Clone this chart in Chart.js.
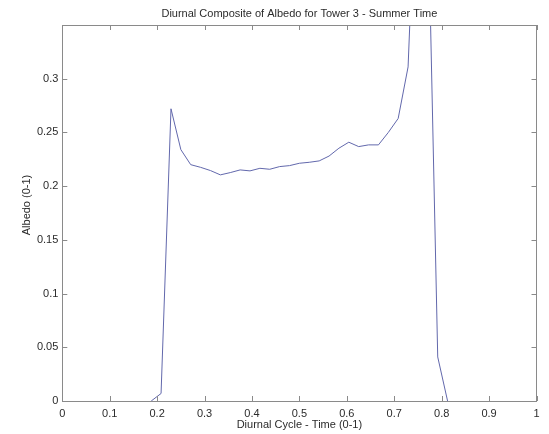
<!DOCTYPE html>
<html>
<head>
<meta charset="utf-8">
<script src="https://cdn.jsdelivr.net/npm/chart.js@4.4.0/dist/chart.umd.min.js"></script>
<style>
  html, body { margin: 0; padding: 0; background: #ffffff; }
  #wrap { width: 549px; height: 434px; position: relative; }
  canvas { display: block; }
</style>
</head>
<body>
<div id="wrap"><canvas id="c" width="549" height="434"></canvas></div>
<script>
// ---- data ----
const chartTitle = 'Diurnal Composite of Albedo for Tower 3 - Summer Time';
const xAxisTitle = 'Diurnal Cycle - Time (0-1)';
const yAxisTitle = 'Albedo (0-1)';

const cycleTime = [
  0.1875, 0.2083, 0.2292, 0.25, 0.2708, 0.2917, 0.3125, 0.3333,
  0.3542, 0.375, 0.3958, 0.4167, 0.4375, 0.4583, 0.4792, 0.5,
  0.5208, 0.5417, 0.5625, 0.5833, 0.6042, 0.625, 0.6458, 0.6667,
  0.6875, 0.7083, 0.7292, 0.75, 0.7708, 0.7917, 0.8125
];
const albedo = [
  0.000, 0.007, 0.272, 0.234, 0.220, 0.2175, 0.2145, 0.2105,
  0.2126, 0.2151, 0.2142, 0.2166, 0.2157, 0.2182, 0.2191, 0.2213,
  0.2222, 0.2235, 0.228, 0.2353, 0.2409, 0.2368, 0.2384, 0.2384,
  0.250, 0.263, 0.311, 0.54, 0.47, 0.041, 0.000
];
const xTicks = [0, 0.1, 0.2, 0.3, 0.4, 0.5, 0.6, 0.7, 0.8, 0.9, 1];
const yTicks = [0, 0.05, 0.1, 0.15, 0.2, 0.25, 0.3];

const FONT = '"Liberation Sans", Arial, Helvetica, sans-serif';
const TEXT = '#2b2b2b';
const FRAME = '#8a8a8a';

const points = cycleTime.map((x, i) => ({ x: x, y: albedo[i] }));

const matlabFrame = {
  id: 'matlabFrame',
  afterDraw(chart) {
    const { ctx, chartArea: a, scales } = chart;
    ctx.save();
    ctx.strokeStyle = FRAME;
    ctx.lineWidth = 1;
    ctx.strokeRect(Math.round(a.left) + 0.5, Math.round(a.top) + 0.5,
                   Math.round(a.right - a.left), Math.round(a.bottom - a.top));
    const L = 5;
    ctx.beginPath();
    xTicks.forEach(v => {
      const px = Math.round(scales.x.getPixelForValue(v)) + 0.5;
      ctx.moveTo(px, a.bottom); ctx.lineTo(px, a.bottom - L);
      ctx.moveTo(px, a.top); ctx.lineTo(px, a.top + L);
    });
    yTicks.forEach(v => {
      const py = Math.round(scales.y.getPixelForValue(v)) + 0.5;
      ctx.moveTo(a.left, py); ctx.lineTo(a.left + L, py);
      ctx.moveTo(a.right, py); ctx.lineTo(a.right - L, py);
    });
    ctx.stroke();
    // titles
    ctx.fillStyle = TEXT;
    ctx.textAlign = 'center';
    ctx.textBaseline = 'middle';
    ctx.font = '11px ' + FONT;
    const cx = (a.left + a.right) / 2;
    ctx.fillText(chartTitle, cx, 14);
    ctx.fillText(xAxisTitle, cx, 425);
    ctx.translate(27, 205);
    ctx.rotate(-Math.PI / 2);
    ctx.fillText(yAxisTitle, 0, 0);
    ctx.restore();
  }
};

new Chart(document.getElementById('c'), {
  type: 'line',
  data: {
    datasets: [{
      data: points,
      borderColor: 'rgb(98,104,172)',
      borderWidth: 1,
      pointRadius: 0,
      tension: 0,
      fill: false
    }]
  },
  options: {
    responsive: false,
    animation: false,
    layout: { padding: { left: 0, right: 12.5, top: 25, bottom: 0 } },
    plugins: { legend: { display: false }, title: { display: false }, tooltip: { enabled: false } },
    scales: {
      x: {
        type: 'linear', min: 0, max: 1,
        afterBuildTicks: s => { s.ticks = xTicks.map(v => ({ value: v })); },
        afterFit: s => { s.height = 33; },
        grid: { display: false, drawTicks: false },
        border: { display: false },
        ticks: {
          padding: 6, color: TEXT, font: { family: FONT, size: 11 },
          maxRotation: 0, autoSkip: false,
          callback: v => String(Math.round(v * 10) / 10)
        }
      },
      y: {
        type: 'linear', min: 0, max: 0.35,
        afterBuildTicks: s => { s.ticks = yTicks.map(v => ({ value: v })); },
        afterFit: s => { s.width = 62.3; },
        grid: { display: false, drawTicks: false },
        border: { display: false },
        ticks: {
          padding: 4, color: TEXT, font: { family: FONT, size: 11 },
          autoSkip: false,
          callback: v => String(Math.round(v * 100) / 100)
        }
      }
    }
  },
  plugins: [matlabFrame]
});
</script>
</body>
</html>
